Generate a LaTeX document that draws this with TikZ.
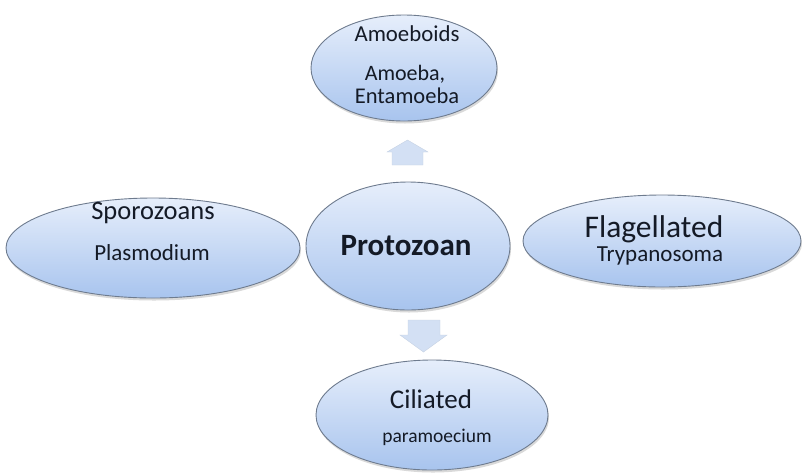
\documentclass[tikz,border=0pt]{standalone}
\usepackage{fontspec}
\setmainfont{Carlito}
\usetikzlibrary{shapes.geometric,shadows}
\definecolor{edgec}{HTML}{6E7B8E}
\definecolor{topc}{HTML}{E6EEFB}
\definecolor{botc}{HTML}{A8C4EE}
\definecolor{txtc}{HTML}{141A26}
\definecolor{arrc}{HTML}{D3E0F4}
\begin{document}
\begin{tikzpicture}[x=1pt,y=-1pt,
  blob/.style={ellipse,draw=edgec,line width=0.9pt,top color=topc,bottom color=botc,
    inner sep=0pt,drop shadow={shadow xshift=1pt,shadow yshift=-2.5pt,opacity=0.25,fill=black!60}},
  lbl/.style={text=txtc,inner sep=0pt,anchor=center},
  barrow/.style={fill=arrc,draw=arrc!85!gray,line width=0.4pt}]
\useasboundingbox (0,0) rectangle (802,472);
% ellipses
\node[blob,minimum width=186pt,minimum height=106pt] (amo) at (404,68) {};
\node[blob,minimum width=294pt,minimum height=100pt] (spo) at (153,248) {};
\node[blob,minimum width=278pt,minimum height=92pt] (fla) at (662,241) {};
\node[blob,minimum width=204pt,minimum height=128pt] (pro) at (408,246) {};
\node[blob,minimum width=232pt,minimum height=110pt] (cil) at (432,415) {};
% block arrows
\draw[barrow] (392,165) -- (392,152) -- (387,152) -- (407.5,140) -- (428,152) -- (423,152) -- (423,165) -- cycle;
\draw[barrow] (408,320) -- (440,320) -- (440,335) -- (447,335) -- (423.5,352) -- (400,335) -- (408,335) -- cycle;
% texts
\node[lbl,font=\fontsize{22.8}{27}\selectfont] (amoT) at (407,34) {Amoeboids};
\node[lbl,font=\fontsize{22}{27}\selectfont] (amoA) at (405,74) {Amoeba,};
\node[lbl,font=\fontsize{22.5}{27}\selectfont] (amoB) at (407,96) {Entamoeba};
\node[lbl,font=\fontsize{26.5}{30}\selectfont] (spoT) at (153,213) {Sporozoans};
\node[lbl,font=\fontsize{23}{27}\selectfont] (spoP) at (152,253) {Plasmodium};
\node[lbl,font=\fontsize{31}{35}\bfseries\selectfont] (proT) at (406,246) {Protozoan};
\node[lbl,font=\fontsize{31.5}{36}\selectfont] (flaT) at (654,229) {Flagellated};
\node[lbl,font=\fontsize{23}{27}\selectfont] (flaP) at (660,256) {Trypanosoma};
\node[lbl,font=\fontsize{27}{31}\selectfont] (cilT) at (431,399) {Ciliated};
\node[lbl,font=\fontsize{19.5}{23}\selectfont] (cilP) at (437,437) {paramoecium};
\end{tikzpicture}
\end{document}
